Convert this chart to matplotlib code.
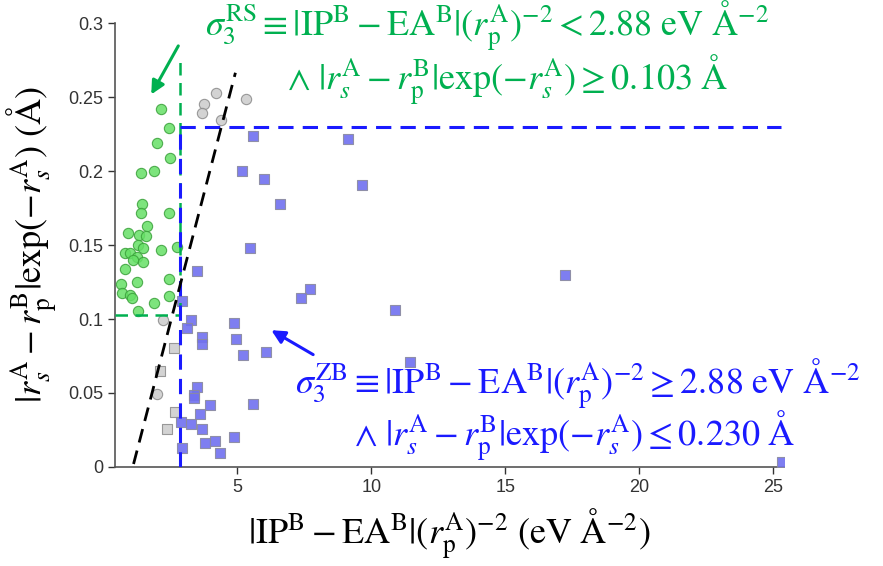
import matplotlib.pyplot as plt
import numpy as np

plt.rcParams['mathtext.fontset'] = 'stix'
plt.rcParams['font.family'] = ['Liberation Sans', 'DejaVu Sans']

# --- données ---
rs_x = [2.17, 2.44, 2.02, 2.48, 1.42, 1.90, 1.46, 1.42, 2.44, 1.64, 0.93, 1.34, 1.61,
        1.30, 0.80, 0.99, 1.49, 2.17, 2.75, 1.24, 1.11, 1.49, 0.80, 1.24, 2.44, 0.68,
        0.70, 1.01, 1.09, 2.44, 1.90, 1.30]
rs_y = [0.2417, 0.2293, 0.219, 0.2086, 0.1986, 0.200, 0.1777, 0.172, 0.1714, 0.1628,
        0.158, 0.1568, 0.1563, 0.150, 0.1444, 0.1444, 0.1478, 0.147, 0.149, 0.142,
        0.140, 0.1385, 0.134, 0.125, 0.127, 0.124, 0.1174, 0.1162, 0.114, 0.1157,
        0.1106, 0.1054]

gris_cercle_x = [4.22, 3.76, 3.70, 5.32, 4.41, 2.23, 1.99]
gris_cercle_y = [0.253, 0.2453, 0.239, 0.249, 0.2345, 0.0993, 0.0491]
gris_carre_x = [2.64, 2.13, 2.69, 2.36]
gris_carre_y = [0.0806, 0.065, 0.037, 0.0255]

zb_x = [5.57, 9.13, 5.17, 6.00, 9.65, 6.59, 5.47, 3.48, 7.72, 7.36, 10.87, 2.93, 3.26,
        3.13, 4.86, 4.96, 3.70, 3.70, 5.23, 6.06, 11.45, 3.48, 3.38, 3.38, 3.99, 5.57,
        3.60, 2.90, 3.26, 3.69, 4.88, 3.79, 4.16, 2.93, 4.36, 17.22, 25.32]
zb_y = [0.2236, 0.2214, 0.200, 0.1944, 0.1905, 0.178, 0.1478, 0.1326, 0.120, 0.1144,
        0.1059, 0.112, 0.0993, 0.094, 0.097, 0.0863, 0.0876, 0.0831, 0.0757, 0.0779,
        0.0712, 0.0538, 0.0486, 0.0464, 0.0417, 0.0426, 0.0356, 0.0306, 0.0288, 0.0257,
        0.0205, 0.016, 0.0174, 0.013, 0.0097, 0.1297, 0.0036]

seuil_x = 2.88
seuil_rs = 0.103
seuil_zb = 0.230
ligne_noire_x = [1.13, 4.93]
ligne_noire_y = [0.002, 0.2665]

yticks = [0, 0.05, 0.1, 0.15, 0.2, 0.25, 0.3]
ytick_labels = ['0', '0.05', '0.1', '0.15', '0.2', '0.25', '0.3']
xticks = [5, 10, 15, 20, 25]

vert = '#00b050'
bleu = '#1a1aff'
taille = 26

fig = plt.figure(figsize=(8.83, 5.66), dpi=100)
ax = fig.add_axes([0.130, 0.175, 0.758, 0.784])

ax.scatter(rs_x, rs_y, s=55, marker='o', facecolor='#66e066', edgecolor='#3aa03a',
           linewidth=0.8, alpha=0.85, zorder=3)
ax.scatter(gris_cercle_x, gris_cercle_y, s=55, marker='o', facecolor='#cccccc',
           edgecolor='#8a8a8a', linewidth=0.8, alpha=0.85, zorder=3)
ax.scatter(gris_carre_x, gris_carre_y, s=45, marker='s', facecolor='#cccccc',
           edgecolor='#8a8a8a', linewidth=0.8, alpha=0.85, zorder=3)
ax.scatter(zb_x, zb_y, s=45, marker='s', facecolor='#7070f0', edgecolor='#8a8aa0',
           linewidth=0.8, alpha=0.9, zorder=3)

# lignes de seuil
ax.plot([seuil_x, seuil_x], [seuil_rs, 0.277], color=vert, lw=1.8, ls=(0, (5, 3)), zorder=4)
ax.plot([0.45, seuil_x], [seuil_rs, seuil_rs], color=vert, lw=1.8, ls=(0, (5, 3)), zorder=4)
ax.plot([seuil_x, seuil_x], [0, seuil_zb], color=bleu, lw=2.2, ls=(0, (5, 3)), zorder=4)
ax.plot([seuil_x, 25.3], [seuil_zb, seuil_zb], color=bleu, lw=2.2, ls=(0, (5, 3)), zorder=4)
ax.plot(ligne_noire_x, ligne_noire_y, color='black', lw=2.0, ls=(0, (5, 3)), zorder=4)

# annotations
ax.annotate('', xy=(1.74, 0.2502), xytext=(2.85, 0.2863),
            arrowprops=dict(arrowstyle='-|>', color=vert, lw=2.2, mutation_scale=20))
ax.annotate('', xy=(6.18, 0.0934), xytext=(7.92, 0.075),
            arrowprops=dict(arrowstyle='-|>', color=bleu, lw=2.2, mutation_scale=20))

ax.text(14.3, 0.2975,
        r'$\sigma_3^{\mathrm{RS}} \equiv |\mathrm{IP}^{\mathrm{B}} - \mathrm{EA}^{\mathrm{B}}|'
        r'(r_{\mathrm{p}}^{\mathrm{A}})^{-2} < 2.88\ \mathrm{eV\ \AA}^{-2}$',
        color=vert, fontsize=taille, ha='center', va='center')
ax.text(15.1, 0.2615,
        r'$\wedge\ |r_s^{\mathrm{A}} - r_{\mathrm{p}}^{\mathrm{B}}|\mathrm{exp}'
        r'(-r_s^{\mathrm{A}}) \geq 0.103\ \mathrm{\AA}$',
        color=vert, fontsize=taille, ha='center', va='center')
ax.text(17.7, 0.0560,
        r'$\sigma_3^{\mathrm{ZB}} \equiv |\mathrm{IP}^{\mathrm{B}} - \mathrm{EA}^{\mathrm{B}}|'
        r'(r_{\mathrm{p}}^{\mathrm{A}})^{-2} \geq 2.88\ \mathrm{eV\ \AA}^{-2}$',
        color=bleu, fontsize=taille, ha='center', va='center')
ax.text(17.6, 0.0205,
        r'$\wedge\ |r_s^{\mathrm{A}} - r_{\mathrm{p}}^{\mathrm{B}}|\mathrm{exp}'
        r'(-r_s^{\mathrm{A}}) \leq 0.230\ \mathrm{\AA}$',
        color=bleu, fontsize=taille, ha='center', va='center')

ax.set_xlim(0.43, 25.4)
ax.set_ylim(0, 0.3)
ax.set_xticks(xticks)
ax.set_yticks(yticks)
ax.set_yticklabels(ytick_labels)
ax.tick_params(labelsize=13, colors='#333333', length=5, width=1)
for cote in ['top', 'right']:
    ax.spines[cote].set_visible(False)
for cote in ['left', 'bottom']:
    ax.spines[cote].set_color('#555555')
    ax.spines[cote].set_linewidth(1.2)

ax.set_xlabel(r'$|\mathrm{IP}^{\mathrm{B}} - \mathrm{EA}^{\mathrm{B}}|'
              r'(r_{\mathrm{p}}^{\mathrm{A}})^{-2}\ (\mathrm{eV\ \AA}^{-2})$',
              fontsize=taille, labelpad=8)
ax.set_ylabel(r'$|r_s^{\mathrm{A}} - r_{\mathrm{p}}^{\mathrm{B}}|\mathrm{exp}'
              r'(-r_s^{\mathrm{A}})\ (\mathrm{\AA})$',
              fontsize=taille, labelpad=6)

plt.savefig('out.png', dpi=100)
